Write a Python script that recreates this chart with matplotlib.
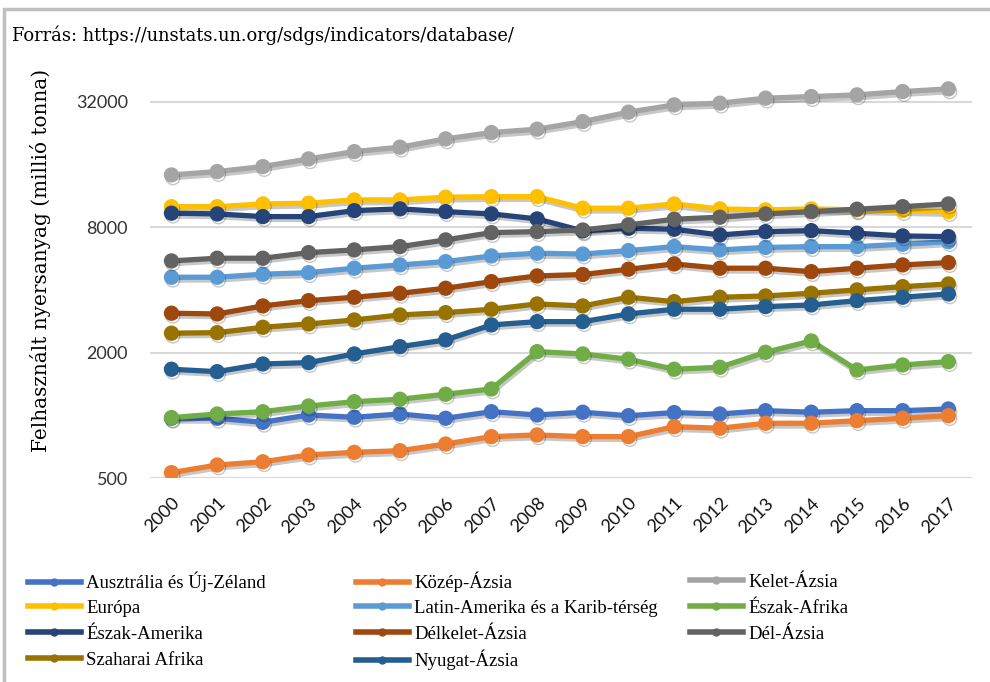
import matplotlib.pyplot as plt
import matplotlib.patheffects as pe
from matplotlib.lines import Line2D
from matplotlib.patches import Rectangle

years = list(range(2000, 2018))

ausztralia = [970, 970, 928, 1006, 981, 1017, 970, 1043, 1006, 1037, 998, 1033, 1017, 1055, 1037, 1055, 1055, 1075]
kozep_azsia = [532, 579, 600, 647, 666, 678, 730, 792, 807, 792, 792, 884, 869, 918, 918, 945, 970, 998]
kelet_azsia = [14250, 14790, 15630, 17010, 18440, 19360, 21220, 22750, 23620, 25690, 28500, 30890, 31470, 33270, 33850, 34500, 35780, 36860]
europa = [10040, 10040, 10345, 10430, 10815, 10815, 11145, 11210, 11210, 9870, 9870, 10345, 9795, 9690, 9795, 9690, 9610, 9505]
latin_amerika = [4605, 4605, 4761, 4844, 5087, 5276, 5472, 5827, 6003, 5950, 6178, 6457, 6226, 6400, 6457, 6457, 6630, 6820]
eszak_afrika = [977, 1017, 1043, 1111, 1165, 1197, 1265, 1341, 2025, 1974, 1862, 1667, 1704, 2011, 2279, 1654, 1748, 1813]
eszak_amerika = [9340, 9265, 8995, 8995, 9610, 9795, 9505, 9265, 8770, 7680, 7910, 7825, 7346, 7620, 7705, 7487, 7266, 7210]
delkelet_azsia = [3095, 3070, 3354, 3556, 3692, 3858, 4078, 4386, 4672, 4745, 5031, 5333, 5087, 5087, 4898, 5087, 5276, 5412]
del_azsia = [5514, 5680, 5680, 6043, 6226, 6457, 6955, 7537, 7620, 7760, 8207, 8738, 8934, 9265, 9505, 9760, 10040, 10345]
szaharai_afrika = [2482, 2497, 2650, 2749, 2873, 3036, 3114, 3234, 3429, 3354, 3692, 3517, 3692, 3745, 3858, 4004, 4150, 4275]
nyugat_azsia = [1667, 1623, 1767, 1793, 1974, 2139, 2304, 2719, 2820, 2820, 3070, 3234, 3234, 3329, 3390, 3556, 3692, 3829]

series = [
    ("Ausztrália és Új-Zéland", ausztralia, "#4472C4"),
    ("Közép-Ázsia", kozep_azsia, "#ED7D31"),
    ("Kelet-Ázsia", kelet_azsia, "#A5A5A5"),
    ("Európa", europa, "#FFC000"),
    ("Latin-Amerika és a Karib-térség", latin_amerika, "#5B9BD5"),
    ("Észak-Afrika", eszak_afrika, "#70AD47"),
    ("Észak-Amerika", eszak_amerika, "#264478"),
    ("Délkelet-Ázsia", delkelet_azsia, "#9E480E"),
    ("Dél-Ázsia", del_azsia, "#636363"),
    ("Szaharai Afrika", szaharai_afrika, "#997300"),
    ("Nyugat-Ázsia", nyugat_azsia, "#255E91"),
]

y_ticks = [500, 2000, 8000, 32000]

fig = plt.figure(figsize=(9.9, 6.82), dpi=100)
ax = fig.add_axes([0.1515, 0.2987, 0.83, 0.6133])

shadow = [pe.SimpleLineShadow(offset=(1, -2), alpha=0.22, shadow_color="black"), pe.Normal()]

for name, vals, color in series:
    ax.plot(years, vals, color=color, lw=3.8, marker="o", markersize=10,
            label=name, path_effects=shadow, solid_capstyle="round")

ax.set_yscale("log")
ax.set_ylim(500, 50700)
ax.set_xlim(1999.53, 2017.51)
ax.set_yticks(y_ticks)
ax.set_yticklabels([str(t) for t in y_ticks], fontsize=13, family="Lato", color="#333333")
ax.minorticks_off()
ax.set_xticks(years)
ax.set_xticklabels([str(y) for y in years], rotation=45, ha="right", va="top",
                   rotation_mode="anchor", fontsize=13, family="Lato", color="#111111")
ax.tick_params(axis="y", length=0, pad=16)
ax.tick_params(axis="x", length=0, pad=12)
ax.grid(axis="y", color="#D9D9D9", lw=1.5)
ax.set_axisbelow(True)
for s in ax.spines.values():
    s.set_visible(False)

ax.set_ylabel("Felhasznált nyersanyag (millió tonna)", family="DejaVu Serif",
              fontsize=14.4)
ax.yaxis.set_label_coords(-0.121, 0.52)

fig.text(0.012, 0.948, "Forrás: https://unstats.un.org/sdgs/indicators/database/",
         family="DejaVu Serif", fontsize=12.9, va="center")

# Excel-style legend grid: 3 columns, filled row by row, one entry per cell
col_x = [0.0283, 0.3596, 0.697]
row_y = [0.1466, 0.1085, 0.0704, 0.0323]
for i, (name, vals, color) in enumerate(series):
    h = Line2D([], [], color=color, lw=4, marker="o", markersize=5)
    leg = fig.legend([h], [name], loc="center left",
                     bbox_to_anchor=(col_x[i % 3], row_y[i // 3]), frameon=False,
                     handlelength=2.8, handletextpad=0.3, borderpad=0.0,
                     borderaxespad=0.0,
                     prop={"family": "Liberation Serif", "size": 13.5})

# frame edges of the chart area
fig.patches.append(Rectangle((0.0045, -0.05), 1.1, 1.0375, transform=fig.transFigure,
                             fill=False, edgecolor="#BFBFBF", lw=2.5))

fig.savefig("out.png", dpi=100)
